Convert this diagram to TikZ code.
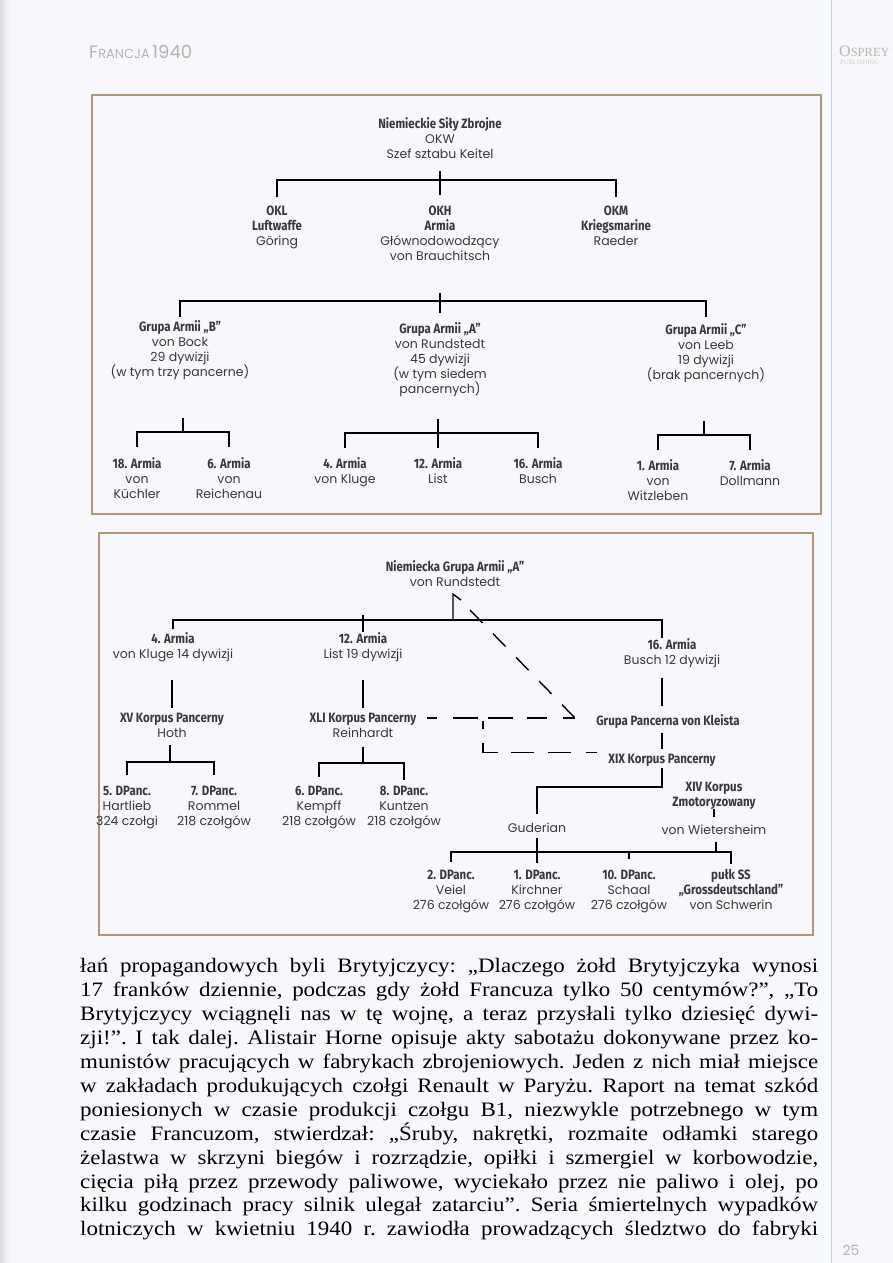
\documentclass[tikz,border=0pt]{standalone}
\usepackage{fontspec}
\usepackage{xcolor}
\usepackage{tikz}
\usetikzlibrary{calc}

\newfontfamily\unitfont{Poppins}
\newfontfamily\namefont[FakeStretch=0.85]{Fira Sans}
\newfontfamily\bodyfont[FakeStretch=1.12]{Liberation Serif}
\newfontfamily\pubfont{Liberation Serif}
\newcommand\unitname[1]{{\namefont\bfseries\fontsize{13.5}{15}\selectfont #1}}

\definecolor{pagebg}{RGB}{247,248,251}
\definecolor{boxline}{RGB}{178,150,122}
\definecolor{runhead}{RGB}{186,178,176}
\definecolor{gutter}{RGB}{205,210,218}

\begin{document}
\begin{tikzpicture}[x=1pt, y=-1pt,
  unit/.style={anchor=north, align=center, inner sep=0pt,
    font=\unitfont\fontsize{12.5}{15}\selectfont, text=black!78},
  link/.style={line width=1.4pt, black},
  order/.style={line width=1.4pt, black},
  frame/.style={draw=boxline, line width=1.1pt}]

  % ==== Page ====
  \fill[pagebg] (0,0) rectangle (893,1263);
  \useasboundingbox (0,0) rectangle (893,1263);
  \shade[left color=black!14, right color=pagebg] (0,0) rectangle (10,1263);
  \draw[gutter, line width=1pt] (831,0) -- (831,1263);

  \node[anchor=west, inner sep=0pt, text=runhead, font=\unitfont] (runhead) at (89,52)
    {{\fontsize{18}{18}\selectfont F}{\fontsize{13}{13}\selectfont RANCJA} {\fontsize{18}{18}\selectfont 1940}};
  \node[anchor=west, inner sep=0pt, text=runhead, font=\pubfont] (pub) at (839,51)
    {{\fontsize{16}{16}\selectfont O}{\fontsize{12.5}{12.5}\selectfont SPREY}};
  \node[anchor=west, inner sep=0pt, text=runhead!70, font=\pubfont\fontsize{6.5}{6.5}\selectfont] (pubsub) at (840,62) {PUBLISHING};
  \node[text=runhead, font=\unitfont\fontsize{14}{14}\selectfont] (folio) at (851,1250) {25};

  \draw[frame] (92,95) rectangle (821,514);
  \draw[frame] (99,533) rectangle (813,935);

  % ==== Top chart: OKW ====

  % Nodes
  \node[unit] (okw) at (440,117) {\unitname{Niemieckie Siły Zbrojne}\\OKW\\Szef sztabu Keitel};
  \node[unit] (okl) at (277,206) {\unitname{OKL}\\\unitname{Luftwaffe}\\Göring};
  \node[unit] (okh) at (440,206) {\unitname{OKH}\\\unitname{Armia}\\Głównodowodzący\\von Brauchitsch};
  \node[unit] (okm) at (616,206) {\unitname{OKM}\\\unitname{Kriegsmarine}\\Raeder};

  \node[unit] (grb) at (180,320) {\unitname{Grupa Armii „B”}\\von Bock\\29 dywizji\\(w tym trzy pancerne)};
  \node[unit] (gra) at (440,322) {\unitname{Grupa Armii „A”}\\von Rundstedt\\45 dywizji\\(w tym siedem\\pancernych)};
  \node[unit] (grc) at (706,323) {\unitname{Grupa Armii „C”}\\von Leeb\\19 dywizji\\(brak pancernych)};

  \node[unit] (a18) at (137,457.5) {\unitname{18. Armia}\\von\\Küchler};
  \node[unit] (a6)  at (229,457.5) {\unitname{6. Armia}\\von\\Reichenau};
  \node[unit] (a4)  at (345,457.5) {\unitname{4. Armia}\\von Kluge};
  \node[unit] (a12) at (438,457.5) {\unitname{12. Armia}\\List};
  \node[unit] (a16) at (538,457.5) {\unitname{16. Armia}\\Busch};
  \node[unit] (a1)  at (658,459.5) {\unitname{1. Armia}\\von\\Witzleben};
  \node[unit] (a7)  at (750,459.5) {\unitname{7. Armia}\\Dollmann};

  % Brackets
  \coordinate (bar1) at (440,180);
  \draw[link] ($(okh.north)+(0,-35)$) -- ($(okh.north)+(0,-11)$);
  \draw[link] ($(okl.north)+(0,-9)$) |- (bar1) -| ($(okm.north)+(0,-9)$);

  \coordinate (bar2) at (440,301);
  \draw[link] ($(bar2)+(0,-8)$) -- ($(gra.north)+(0,-9)$);
  \draw[link] ($(grb.north)+(0,-3)$) |- (bar2) -| ($(grc.north)+(0,-6)$);

  \coordinate (barb) at (183,432);
  \draw[link] ($(barb)+(0,-14)$) -- (barb);
  \draw[link] ($(a18.north)+(0,-11)$) |- (barb) -| ($(a6.north)+(0,-11)$);

  \coordinate (bara) at (438,433);
  \draw[link] ($(bara)+(0,-14)$) -- ($(a12.north)+(0,-10)$);
  \draw[link] ($(a4.north)+(0,-10)$) |- (bara) -| ($(a16.north)+(0,-10)$);

  \coordinate (barc) at (704,435);
  \draw[link] ($(barc)+(0,-14)$) -- (barc);
  \draw[link] ($(a1.north)+(0,-9.5)$) |- (barc) -| ($(a7.north)+(0,-9.5)$);

  % ==== Bottom chart: Grupa Armii A ====

  % Nodes
  \node[unit] (top2) at (455,560.5) {\unitname{Niemiecka Grupa Armii „A”}\\von Rundstedt};

  \node[unit] (a4b)  at (173,632.5) {\unitname{4. Armia}\\von Kluge 14 dywizji};
  \node[unit] (a12b) at (363,632.5) {\unitname{12. Armia}\\List 19 dywizji};
  \node[unit] (a16b) at (672,638.5) {\unitname{16. Armia}\\Busch 12 dywizji};

  \node[unit] (xv)     at (172,712.5) {\unitname{XV Korpus Pancerny}\\Hoth};
  \node[unit] (xli)    at (363,712.5) {\unitname{XLI Korpus Pancerny}\\Reinhardt};
  \node[unit] (kleist) at (668,714.5) {\unitname{Grupa Pancerna von Kleista}};
  \node[unit] (xix)    at (662,753.5) {\unitname{XIX Korpus Pancerny}};

  \node[unit] (d5) at (127,786) {\unitname{5. DPanc.}\\Hartlieb\\324 czołgi};
  \node[unit] (d7) at (214,786) {\unitname{7. DPanc.}\\Rommel\\218 czołgów};
  \node[unit] (d6) at (319,786) {\unitname{6. DPanc.}\\Kempff\\218 czołgów};
  \node[unit] (d8) at (404,786) {\unitname{8. DPanc.}\\Kuntzen\\218 czołgów};

  \node[unit] (gud) at (537,822.5) {Guderian};
  \node[unit] (xiv) at (714,781.5) {\unitname{XIV Korpus}\\\unitname{Zmotoryzowany}};
  \node[unit] (wie) at (714,824.5) {von Wietersheim};

  \node[unit] (d2)  at (451,869.5) {\unitname{2. DPanc.}\\Veiel\\276 czołgów};
  \node[unit] (d1)  at (537,869.5) {\unitname{1. DPanc.}\\Kirchner\\276 czołgów};
  \node[unit] (d10) at (629,869.5) {\unitname{10. DPanc.}\\Schaal\\276 czołgów};
  \node[unit] (ss)  at (731,869.5) {\unitname{pułk SS}\\\unitname{„Grossdeutschland”}\\von Schwerin};

  % Armies under Rundstedt
  \coordinate (bar3) at (453,620);
  \coordinate (hook) at (453,594);
  \coordinate (barxix) at (662,787);
  \draw[link] (bar3) -- (hook) -- ++(8,6);
  \draw[link] ($(a4b.north)+(0,-4)$) |- (bar3) -| ($(a16b.north -| barxix)+(0,-1)$);
  \draw[link] ($(a12b.north)+(0,-18)$) -- ($(a12b.north)+(0,-1)$);

  % Army to corps
  \draw[link] ($(xv.north)+(0,-33)$) -- ($(xv.north)+(0,-5)$);
  \draw[link] ($(xli.north)+(0,-33)$) -- ($(xli.north)+(0,-5)$);
  \draw[link] ($(kleist.north -| barxix)+(0,-37)$) -- ($(kleist.north -| barxix)+(0,-9)$);
  \draw[link] ($(xix.north -| barxix)+(0,-21)$) -- ($(xix.north -| barxix)+(0,-5)$);

  % Corps to divisions
  \coordinate (barxv) at (170,762);
  \draw[link] ($(barxv)+(0,-17)$) -- (barxv);
  \draw[link] ($(d5.north)+(0,-11)$) |- (barxv) -| ($(d7.north)+(0,-11)$);

  \coordinate (barxli) at (363,763);
  \draw[link] ($(barxli)+(0,-16)$) -- (barxli);
  \draw[link] ($(d6.north)+(0,-9)$) |- (barxli) -| ($(d8.north)+(0,-6)$);

  \draw[link] ($(barxix)+(0,-19)$) -- (barxix) -| ($(gud.north)+(0,-9)$);
  \draw[link] ($(wie.north)+(0,-16)$) -- ($(wie.north)+(0,-8)$);

  \coordinate (bargud) at (537,852);
  \draw[link] ($(bargud)+(0,-14)$) -- ($(d1.north)+(0,-7)$);
  \draw[link] ($(d2.north)+(0,-8)$) |- (bargud) -| ($(ss.north)+(0,-6)$);
  \draw[link] (bargud -| d10) -- ++(0,7);
  \draw[link] ($(bargud -| wie)+(2,-10)$) -- ($(bargud -| wie)+(2,0)$);

  % Command of the panzer group (dashed)
  \coordinate (rund) at (470,610);
  \coordinate (tip)  at (575,718);
  \coordinate (fork) at (483,718);
  \draw[order, dash pattern=on 18pt off 15pt] (rund) -- (tip);
  \draw[order, dash pattern=on 10pt off 16pt on 25pt off 10pt on 25pt off 14pt on 20pt off 16pt on 12pt off 20pt]
    ($(xli.north)+(64,5.5)$) -- (tip);
  \draw[order, dash pattern=on 0pt off 3pt on 8pt off 14pt on 24pt off 13pt on 23pt off 14pt on 23pt off 15pt on 12pt off 20pt]
    (fork) |- ($(xix.north)+(-65,-1)$);

  % ==== Running text ====
  \node[anchor=north west, inner sep=0pt, text width=738pt, align=justify,
    font=\bodyfont\fontsize{20.5}{23.9}\selectfont] (body) at (80,958.5)
  {\frenchspacing\parfillskip=0pt \tolerance=10000 \hyphenpenalty=10000
   łań propagandowych byli Brytyjczycy: „Dlaczego żołd Brytyjczyka wynosi\linebreak
   17 franków dziennie, podczas gdy żołd Francuza tylko 50 centymów?”, „To\linebreak
   Brytyjczycy wciągnęli nas w tę wojnę, a teraz przysłali tylko dziesięć dywi-\linebreak
   zji!”. I tak dalej. Alistair Horne opisuje akty sabotażu dokonywane przez ko-\linebreak
   munistów pracujących w fabrykach zbrojeniowych. Jeden z nich miał miejsce\linebreak
   w zakładach produkujących czołgi Renault w Paryżu. Raport na temat szkód\linebreak
   poniesionych w czasie produkcji czołgu B1, niezwykle potrzebnego w tym\linebreak
   czasie Francuzom, stwierdzał: „Śruby, nakrętki, rozmaite odłamki starego\linebreak
   żelastwa w skrzyni biegów i rozrządzie, opiłki i szmergiel w korbowodzie,\linebreak
   cięcia piłą przez przewody paliwowe, wyciekało przez nie paliwo i olej, po\linebreak
   kilku godzinach pracy silnik ulegał zatarciu”. Seria śmiertelnych wypadków\linebreak
   lotniczych w kwietniu 1940 r. zawiodła prowadzących śledztwo do fabryki\par};
\end{tikzpicture}
\end{document}
